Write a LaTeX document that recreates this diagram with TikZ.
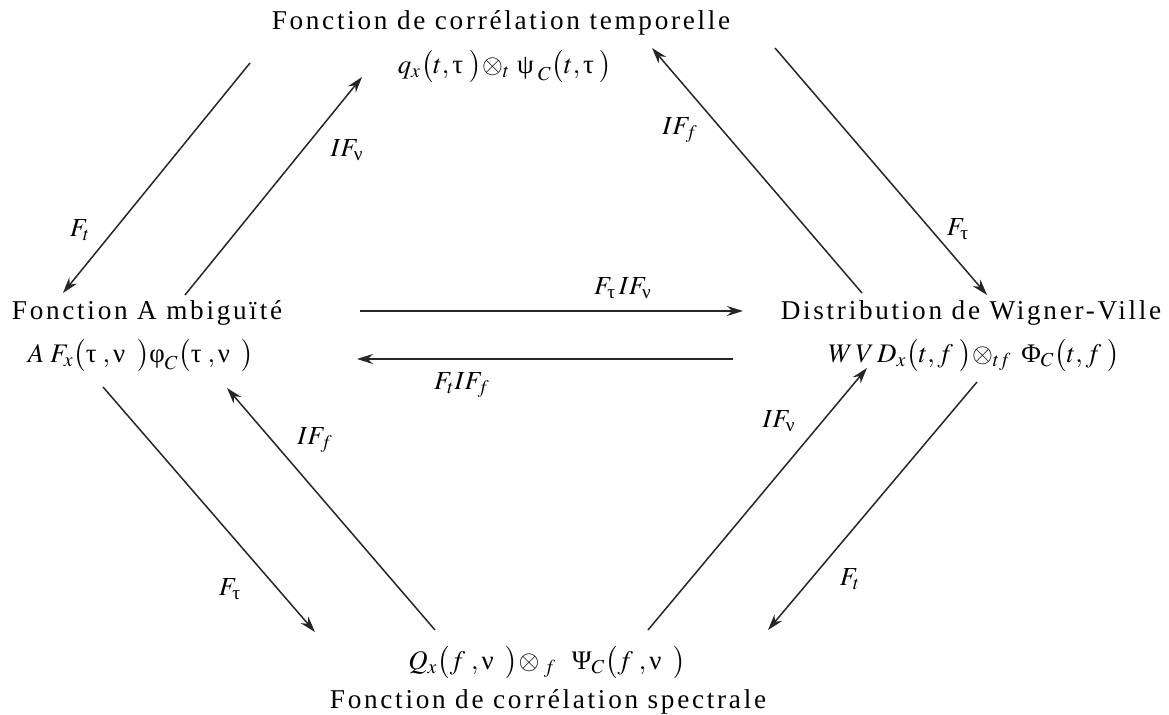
\documentclass[tikz,border=0pt]{standalone}
\usepackage{amsmath}
\usepackage{mathptmx}
\usepackage{fontspec}
\setmainfont{Liberation Serif}[LetterSpace=10]
\newfontfamily\grfont{Liberation Serif}
\usetikzlibrary{arrows.meta}
\newcommand{\gr}[1]{\text{\grfont #1}}

\begin{document}
\begin{tikzpicture}[x=0.5pt,y=-0.5pt,>={Stealth[length=8pt,width=5pt]},
  every node/.style={inner sep=0pt},
  titre/.style={font=\fontsize{13.6}{16}\selectfont},
  formule/.style={font=\fontsize{13.4}{16}\selectfont},
  etiq/.style={font=\fontsize{13}{15}\selectfont},
  fleche/.style={->,line width=0.75pt,draw=black!85}]
\useasboundingbox (0,0) rectangle (1169,715);

% les quatre fonctions
\node[titre] (temp) at (501,23) {Fonction de corrélation temporelle};
\node[formule] (tempf) at (505,67) {$q_x\bigl(t,\gr{τ}\;\bigr)\!\otimes_t\,\gr{ψ}_{\;C}\bigl(t,\gr{τ}\;\bigr)$};
\node[titre] (ambig) at (147,313) {Fonction A mbiguïté};
\node[formule] (ambigf) at (141,356) {$A\;F_x\bigl(\gr{τ}\;,\gr{ν}\;\;\bigr)\gr{φ}_C\bigl(\gr{τ}\;,\gr{ν}\;\;\bigr)$};
\node[titre] (wvd) at (971,313) {Distribution de Wigner-Ville};
\node[formule] (wvdf) at (974,356) {$W\,V\,D_x\bigl(t,f\;\bigr)\!\otimes_{tf}\;\gr{Φ}_C\bigl(t,f\;\bigr)$};
\node[formule] (specf) at (547,663) {$Q_x\bigl(f\;,\gr{ν}\;\;\bigr)\!\otimes_{\;f}\;\;\gr{Ψ}_C\bigl(f\;,\gr{ν}\;\;\bigr)$};
\node[titre] (spec) at (548,702) {Fonction de corrélation spectrale};

% extremites des fleches
\coordinate (t1) at (250,63);   \coordinate (a1) at (63,293);
\coordinate (a2) at (185,295);  \coordinate (t2) at (362,77);
\coordinate (w1) at (862,293);  \coordinate (t3) at (652,48);
\coordinate (t4) at (775,48);   \coordinate (w2) at (987,295);
\coordinate (a3) at (360,311);  \coordinate (w3) at (743,311);
\coordinate (w4) at (733,359);  \coordinate (a4) at (357,359);
\coordinate (a5) at (103,387);  \coordinate (s1) at (315,632);
\coordinate (s2) at (435,630);  \coordinate (a6) at (227,388);
\coordinate (s3) at (648,630);  \coordinate (w5) at (867,368);
\coordinate (w6) at (977,382);  \coordinate (s4) at (768,630);

\draw[fleche] (t1) -- (a1);
\draw[fleche] (a2) -- (t2);
\draw[fleche] (w1) -- (t3);
\draw[fleche] (t4) -- (w2);
\draw[fleche] (a3) -- (w3);
\draw[fleche] (w4) -- (a4);
\draw[fleche] (a5) -- (s1);
\draw[fleche] (s2) -- (a6);
\draw[fleche] (s3) -- (w5);
\draw[fleche] (w6) -- (s4);

% transformations
\node[etiq] (l1) at (80,230) {$F_t$};
\node[etiq] (l2) at (347,150) {$IF_{\gr{ν}}$};
\node[etiq] (l3) at (680,130) {$IF_f$};
\node[etiq] (l4) at (958,229) {$F_{\gr{τ}}$};
\node[etiq] (l5) at (623,288) {$F_{\gr{τ}}\,IF_{\gr{ν}}$};
\node[etiq] (l6) at (462,385) {$F_tIF_f$};
\node[etiq] (l7) at (315,440) {$IF_f$};
\node[etiq] (l8) at (230,589) {$F_{\gr{τ}}$};
\node[etiq] (l9) at (779,421) {$IF_{\gr{ν}}$};
\node[etiq] (l10) at (850,579) {$F_t$};
\end{tikzpicture}
\end{document}
